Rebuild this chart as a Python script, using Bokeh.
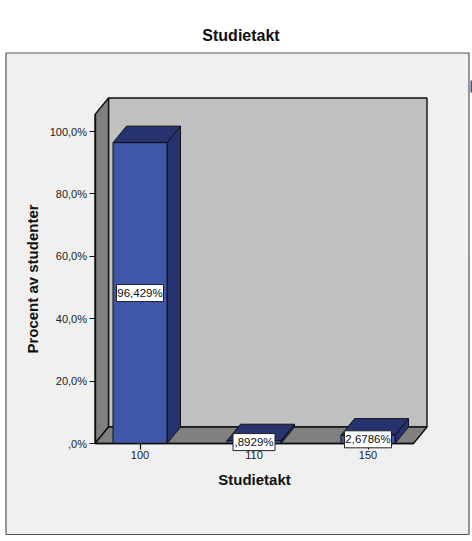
from bokeh.plotting import figure
from bokeh.core.properties import value
from bokeh.models import Range1d, FixedTicker
from bokeh.embed import file_html
from bokeh.resources import INLINE

categories = ["100", "110", "150"]
percent = [96.429, 0.8929, 2.6786]
labels = ["96,429%", ",8929%", "2,6786%"]
y_ticks = [0, 20, 40, 60, 80, 100]
y_tick_labels = [",0%", "20,0%", "40,0%", "60,0%", "80,0%", "100,0%"]
title_text = "Studietakt"
x_title = "Studietakt"
y_title = "Procent av studenter"

W, H = 472, 541
FL, FR, FT, FB = 94.5, 426.5, 97.5, 443      # plot box in page pixels
PX_PER_CAT, X0 = 114.0, 139.5
PX_PER_PCT = 3.12
FONT = "Liberation Sans"
BLUE, BLUE_D, WALL, BACK, PANEL, INK = "#3f57ab", "#26336e", "#808080", "#c0c0c0", "#f0f0f0", "#101010"


def X(px):
    return (px - X0) / PX_PER_CAT


def Y(px):
    return (FB - px) / PX_PER_PCT


p = figure(width=W, height=H, output_backend="svg", toolbar_location=None,
           x_range=Range1d(X(0), X(W)), y_range=Range1d(Y(H), Y(0)),
           min_border=0, border_fill_color="white", background_fill_color="white",
           outline_line_color=None)
p.grid.visible = False


def poly(xs, ys, fill, line=INK, width=1.4):
    p.patch([X(v) for v in xs], [Y(v) for v in ys], fill_color=fill, line_color=line, line_width=width)


# outer panel and the stray mark at the right edge
poly([5.5, 468.5, 468.5, 5.5], [52.5, 52.5, 534, 534], PANEL, "#555555", 1.2)
poly([470, 472, 472, 470], [80, 80, 92, 92], "#4a5070", None, 0)
# 3-D walls
DX, DY = 13.5, 16.5
poly([FL + DX, FR, FR, FL + DX], [FT, FT, FB - DY, FB - DY], BACK)
poly([FL, FL + DX, FL + DX, FL], [FB, FB - DY, FT, FT + DY], WALL)
poly([FL, FL + DX, FR, FR - DX], [FB, FB - DY, FB - DY, FB], WALL)

# bars
half = 27 / PX_PER_CAT
dx, dy = DX / PX_PER_CAT, DY / PX_PER_PCT
xi = list(range(len(percent)))
p.patches([[i + half, i + half + dx, i + half + dx, i + half] for i in xi],
          [[0, dy, v + dy, v] for v in percent],
          fill_color=BLUE_D, line_color=INK, line_width=1)
p.patches([[i - half, i - half + dx, i + half + dx, i + half] for i in xi],
          [[v, v + dy, v + dy, v] for v in percent],
          fill_color=BLUE_D, line_color=INK, line_width=1)
p.vbar(x=xi, top=percent, bottom=0, width=2 * half, fill_color=BLUE, line_color=INK, line_width=1)

# value labels, centred on the front face of each bar
mid = [v / 2 for v in percent]
p.rect(x=xi, y=mid, width=[47, 42, 47], height=17, width_units="screen", height_units="screen",
       fill_color="white", line_color="#222222", line_width=1, level="overlay")
p.text(x=xi, y=mid, text=labels, text_font=value(FONT), text_font_size="11.5px", text_color="#111111",
       text_align="center", text_baseline="middle", level="overlay")

# axes
ax = p.xaxis[0]
ay = p.yaxis[0]
ax.fixed_location = 0
ay.fixed_location = X(FL)
ax.ticker = FixedTicker(ticks=xi)
ax.major_label_overrides = {i: c for i, c in zip(xi, categories)}
ax.bounds = (X(FL), X(FR - DX))
ay.ticker = FixedTicker(ticks=y_ticks)
ay.major_label_overrides = {t: s for t, s in zip(y_ticks, y_tick_labels)}
ay.bounds = (0, Y(FT + DY))
for a in (ax, ay):
    a.minor_tick_line_color = None
    a.major_tick_in = 0
    a.major_tick_out = 6
    a.major_tick_line_color = INK
    a.major_tick_line_width = 1.2
    a.axis_line_color = INK
    a.axis_line_width = 1.4
    a.major_label_text_font = FONT
    a.major_label_text_font_size = "11px"
    a.major_label_text_color = "#222222"
    a.major_label_standoff = 2
    a.axis_label_text_font = FONT
    a.axis_label_text_font_style = "bold"
    a.axis_label_text_font_size = "15px"
    a.axis_label_text_color = INK
ax.major_label_standoff = 1
ax.axis_label = x_title
ay.axis_label = y_title
ax.axis_label_standoff = 9
ay.axis_label_standoff = 6

p.text(x=[X(240.5)], y=[Y(35)], text=[title_text], text_font=value(FONT), text_font_style="bold",
       text_font_size="16px", text_color=INK, text_align="center", text_baseline="middle")

open("out.html", "w").write(file_html(p, INLINE))
